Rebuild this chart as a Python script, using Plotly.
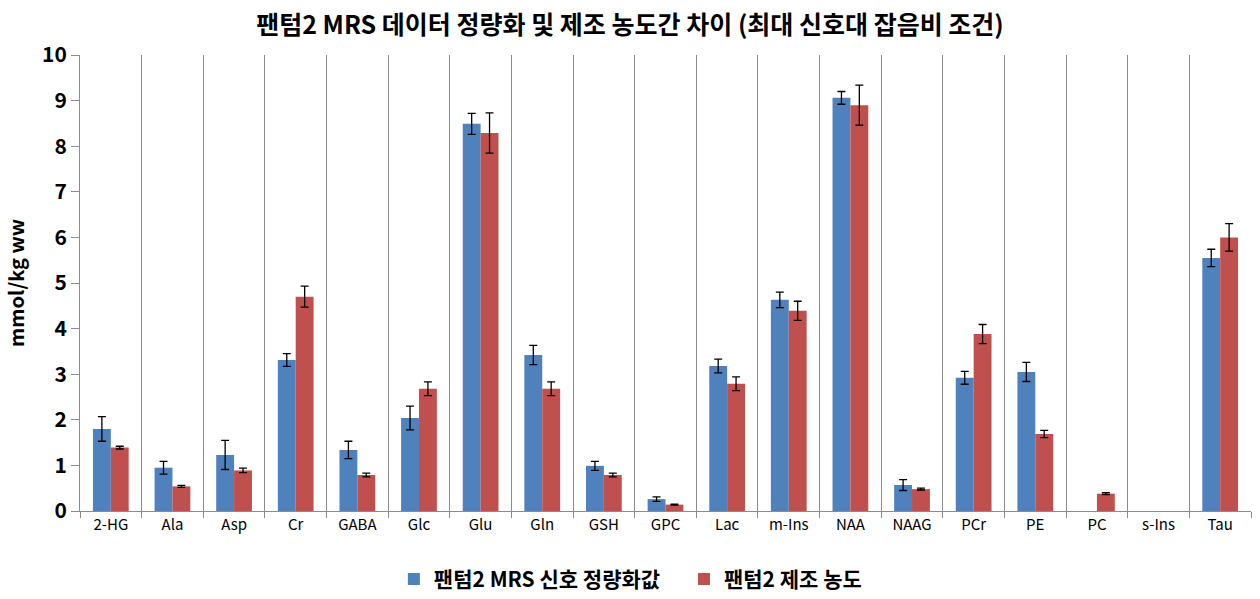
import plotly.graph_objects as go

categories = ["2-HG", "Ala", "Asp", "Cr", "GABA", "Glc", "Glu", "Gln", "GSH", "GPC",
              "Lac", "m-Ins", "NAA", "NAAG", "PCr", "PE", "PC", "s-Ins", "Tau"]

mrs_values = [1.80, 0.95, 1.23, 3.31, 1.34, 2.04, 8.49, 3.42, 0.99, 0.26,
              3.18, 4.63, 9.06, 0.57, 2.92, 3.05, None, None, 5.55]
mrs_errors = [0.27, 0.14, 0.32, 0.14, 0.19, 0.26, 0.23, 0.21, 0.10, 0.05,
              0.15, 0.17, 0.14, 0.12, 0.14, 0.21, 0, 0, 0.19]

prep_values = [1.39, 0.54, 0.89, 4.70, 0.79, 2.68, 8.29, 2.68, 0.79, 0.14,
               2.79, 4.39, 8.90, 0.48, 3.88, 1.69, 0.38, None, 6.00]
prep_errors = [0.03, 0.02, 0.05, 0.23, 0.04, 0.15, 0.44, 0.15, 0.04, 0.01,
               0.15, 0.21, 0.44, 0.02, 0.21, 0.08, 0.02, 0, 0.30]

series_names = ["팬텀2 MRS 신호 정량화값", "팬텀2 제조 농도"]
colors = ["#4F81BD", "#C0504D"]

font_family = "Noto Sans CJK KR, Noto Sans, sans-serif"

fig = go.Figure()
for i, (name, vals, errs, col) in enumerate(zip(series_names, [mrs_values, prep_values],
                                                [mrs_errors, prep_errors], colors)):
    label = "<b>" + name + "</b>" + ("\u00a0" * 4 if i == 0 else "")
    fig.add_trace(go.Bar(
        x=categories, y=vals, name=label,
        marker=dict(color=col, line=dict(width=0)),
        error_y=dict(type="data", array=errs, visible=True,
                     color="black", thickness=1.3, width=4),
    ))

fig.update_layout(
    width=1260, height=599,
    margin=dict(l=80, r=9, t=55, b=88, autoexpand=False),
    paper_bgcolor="white", plot_bgcolor="white",
    barmode="group", bargap=0.42, bargroupgap=0,
    font=dict(family=font_family, color="black"),
    title=dict(text="<b>팬텀2 MRS 데이터 정량화 및 제조 농도간 차이 (최대 신호대 잡음비 조건)</b>",
               x=0.5, xanchor="center", y=0.958, yanchor="middle",
               font=dict(size=25, family=font_family, color="black")),
    legend=dict(orientation="h", x=0.47, xanchor="center", y=-0.15, yanchor="middle",
                font=dict(size=21, family=font_family, color="black"),
                itemwidth=30, tracegroupgap=0),
    showlegend=True,
)

fig.update_xaxes(
    type="category", range=[-0.5, len(categories) - 0.5],
    tickson="boundaries", showgrid=True, gridcolor="#8C8C8C", gridwidth=1,
    showline=True, linecolor="#8C8C8C", linewidth=1,
    ticks="outside", ticklen=6, tickcolor="#8C8C8C",
    tickfont=dict(size=15, family=font_family, color="black"),
    zeroline=False,
)

fig.update_yaxes(
    range=[0, 10], dtick=1, tick0=0,
    showgrid=False, zeroline=False,
    showline=True, linecolor="#8C8C8C", linewidth=1,
    ticks="outside", ticklen=8, tickcolor="#8C8C8C",
    tickfont=dict(size=21, family=font_family, color="black"),
    tickprefix="<b>", ticksuffix="</b>",
    title=dict(text="<b>mmol/kg ww</b>", standoff=12,
               font=dict(size=20, family=font_family, color="black")),
)

fig.write_html("out.html")
